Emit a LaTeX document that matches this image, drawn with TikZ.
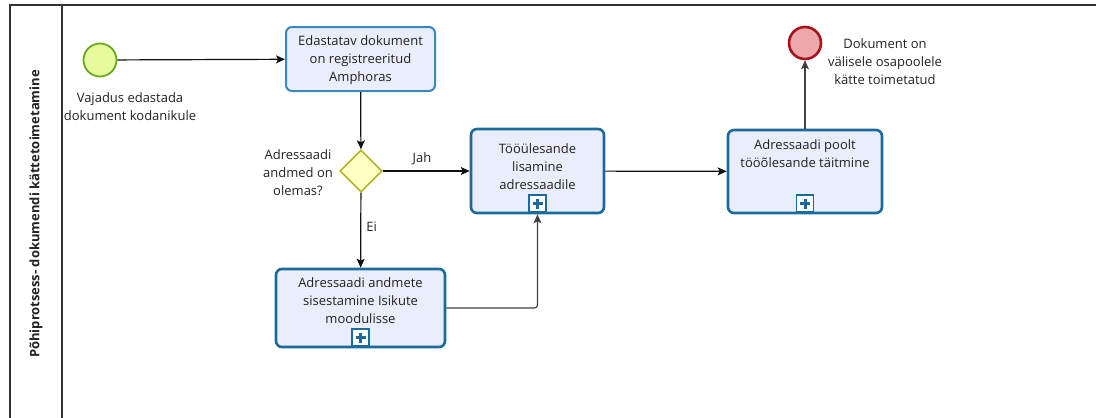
\documentclass[tikz,border=0pt]{standalone}
\usepackage{fontspec}
\setmainfont{Open Sans}
\usetikzlibrary{arrows.meta,shapes.geometric}
\definecolor{poolline}{HTML}{333333}
\definecolor{txt}{HTML}{222222}
\definecolor{taskedge}{HTML}{1A6A9A}
\definecolor{plainedge}{HTML}{3A88BC}
\definecolor{taskfill}{HTML}{EAEDFB}
\definecolor{startfill}{HTML}{E6FA9C}
\definecolor{startedge}{HTML}{6AAA1E}
\definecolor{endfill}{HTML}{EDA8AB}
\definecolor{endedge}{HTML}{A8141C}
\definecolor{gatefill}{HTML}{FFFFC4}
\definecolor{gateedge}{HTML}{B4B42A}
\definecolor{flowcol}{HTML}{111111}
\begin{document}
\begin{tikzpicture}[x=1pt,y=-1pt,
  every node/.style={font=\fontsize{13}{18}\selectfont, text=txt},
  plaintask/.style={draw=plainedge, line width=2pt, fill=taskfill, rounded corners=6pt,
    minimum width=149pt, minimum height=64pt, inner sep=0pt},
  subproc/.style={draw=taskedge, line width=2.6pt, fill=taskfill, rounded corners=6pt,
    inner sep=0pt},
  marker/.style={draw=taskedge, line width=1.6pt, fill=white, minimum size=17pt, inner sep=0pt},
  startev/.style={circle, draw=startedge, line width=1.8pt, fill=startfill, minimum size=33pt, inner sep=0pt},
  endev/.style={circle, draw=endedge, line width=2.6pt, fill=endfill, minimum size=32pt, inner sep=0pt},
  gate/.style={diamond, aspect=1, draw=gateedge, line width=1.6pt, fill=gatefill, minimum size=42pt, inner sep=0pt},
  flow/.style={draw=flowcol, line width=1.2pt, -{Stealth[length=9pt,width=8pt,inset=2pt]}},
  lbl/.style={align=center, inner sep=0pt}
]
\useasboundingbox (0,0) rectangle (1096,418);

% pool and lane frame
\draw[poolline, line width=1.4pt] (1096,5) -- (10,5) -- (10,418);
\draw[poolline, line width=1.4pt] (62,5) -- (62,418);
\node[rotate=90, font=\fontsize{13}{15}\selectfont\bfseries] (pool) at (36,214)
  {Põhiprotsess- dokumendi kättetoimetamine};

% events
\node[startev] (start) at (100,60) {};
\node[lbl] (startlbl) at (130,107) {Vajadus edastada\\dokument kodanikule};
\node[endev] (end) at (805,43) {};
\node[lbl] (endlbl) at (885,62) {Dokument on\\välisele osapoolele\\kätte toimetatud};

% tasks
\node[plaintask] (t1) at (360.5,59) {};
\node[lbl] (t1txt) at (360.5,60) {Edastatav dokument\\on registreeritud\\Amphoras};

\node[gate] (g) at (361,171) {};
\node[lbl] (glbl) at (298,173) {Adressaadi\\andmed on\\olemas?};

\node[subproc, minimum width=133pt, minimum height=84pt] (t2) at (537.5,171) {};
\node[lbl] (t2txt) at (537.5,166.5) {Tööülesande\\lisamine\\adressaadile};
\node[marker, anchor=south] (m2) at ([yshift=1.3pt]t2.south) {};

\node[subproc, minimum width=169pt, minimum height=78pt] (t3) at (360.5,308) {};
\node[lbl] (t3txt) at (360.5,301) {Adressaadi andmete\\sisestamine Isikute\\moodulisse};
\node[marker, anchor=south] (m3) at ([yshift=1.3pt]t3.south) {};

\node[subproc, minimum width=154pt, minimum height=83pt] (t4) at (805,171.5) {};
\node[lbl] (t4txt) at (805,154) {Adressaadi poolt\\tööõlesande täitmine};
\node[marker, anchor=south] (m4) at ([yshift=1.3pt]t4.south) {};

% expand markers of the sub-processes
\foreach \m in {m2,m3,m4}{
  \draw[taskedge, line width=3pt] ([xshift=-5pt]\m.center) -- ([xshift=5pt]\m.center);
  \draw[taskedge, line width=3pt] ([yshift=-5pt]\m.center) -- ([yshift=5pt]\m.center);
}

% sequence flows
\draw[flow] (start) -- (t1);
\draw[flow] (t1) -- (g);
\draw[flow] (g) -- node[above=5pt, pos=0.45, inner sep=0pt] (jah) {Jah} (t2);
\draw[flow] (g) -- node[right=5pt, pos=0.45, inner sep=0pt] (ei) {Ei} (t3);
\draw[flow, draw=flowcol!80, rounded corners=3pt] (t3.east) -| (t2.south);
\draw[flow] (t2) -- (t4);
\draw[flow, draw=flowcol!80] (t4) -- (end);
\end{tikzpicture}
\end{document}
